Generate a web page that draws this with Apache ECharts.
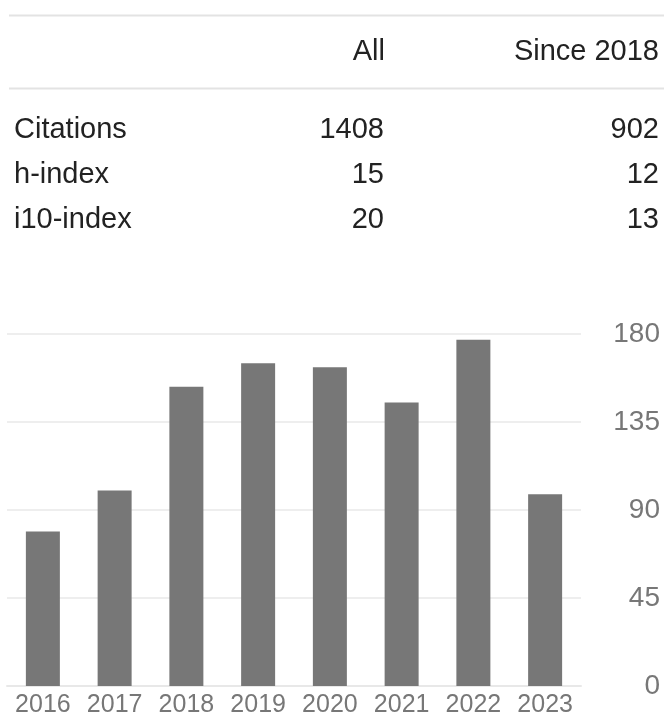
<!DOCTYPE html>
<html>
<head>
<meta charset="utf-8">
<script src="https://cdn.jsdelivr.net/npm/echarts@6/dist/echarts.min.js"></script>
<style>
html,body{margin:0;padding:0;background:#fff;}
#main{width:664px;height:718px;}
</style>
</head>
<body>
<div id="main"></div>
<script>
// ---- data ----
var years = ['2016', '2017', '2018', '2019', '2020', '2021', '2022', '2023'];
var citations = [79, 100, 153, 165, 163, 145, 177, 98];
var yTicks = [0, 45, 90, 135, 180];
var tableHeaders = ['All', 'Since 2018'];
var tableRows = ['Citations', 'h-index', 'i10-index'];
var allValues = [1408, 15, 20];
var sinceValues = [902, 12, 13];

// ---- layout ----
var FONT = "'Liberation Sans', Arial, sans-serif";
var textColor = '#222';
var rowY = [130, 175, 220];
var graphics = [];
graphics.push({type:'line', shape:{x1:9, y1:15.5, x2:664, y2:15.5}, style:{stroke:'#e3e3e3', lineWidth:2}});
graphics.push({type:'line', shape:{x1:9, y1:88.5, x2:664, y2:88.5}, style:{stroke:'#e3e3e3', lineWidth:2}});
graphics.push({type:'text', x:385, y:52, style:{text:tableHeaders[0], font:'29px ' + FONT, fill:textColor, textAlign:'right', textVerticalAlign:'middle'}});
graphics.push({type:'text', x:659, y:52, style:{text:tableHeaders[1], font:'29px ' + FONT, fill:textColor, textAlign:'right', textVerticalAlign:'middle'}});
tableRows.forEach(function(name, i){
  graphics.push({type:'text', x:14, y:rowY[i], style:{text:name, font:'29px ' + FONT, fill:textColor, textAlign:'left', textVerticalAlign:'middle'}});
  graphics.push({type:'text', x:384, y:rowY[i], style:{text:String(allValues[i]), font:'29px ' + FONT, fill:textColor, textAlign:'right', textVerticalAlign:'middle'}});
  graphics.push({type:'text', x:659, y:rowY[i], style:{text:String(sinceValues[i]), font:'29px ' + FONT, fill:textColor, textAlign:'right', textVerticalAlign:'middle'}});
});

var chart = echarts.init(document.getElementById('main'), null, {renderer:'canvas'});
chart.setOption({
  animation: false,
  backgroundColor: '#fff',
  graphic: graphics,
  grid: {left: 7, width: 574, top: 334, bottom: 25, containLabel: false},
  xAxis: {
    type: 'category',
    data: years,
    boundaryGap: true,
    axisLine: {show: true, lineStyle: {color: '#e8e8e8', width: 2}},
    axisTick: {show: false},
    axisLabel: {color: '#777', fontSize: 25, fontFamily: FONT, margin: 7, interval: 0}
  },
  yAxis: {
    type: 'value',
    position: 'right',
    min: yTicks[0],
    max: yTicks[yTicks.length - 1],
    interval: yTicks[1] - yTicks[0],
    axisLine: {show: false},
    axisTick: {show: false},
    splitLine: {show: true, lineStyle: {color: '#eeeeee', width: 2}},
    axisLabel: {color: '#777', fontSize: 28, fontFamily: FONT, align: 'right', margin: 79}
  },
  series: [{
    type: 'bar',
    data: citations,
    barWidth: 34,
    itemStyle: {color: '#777777'}
  }]
});
</script>
</body>
</html>
